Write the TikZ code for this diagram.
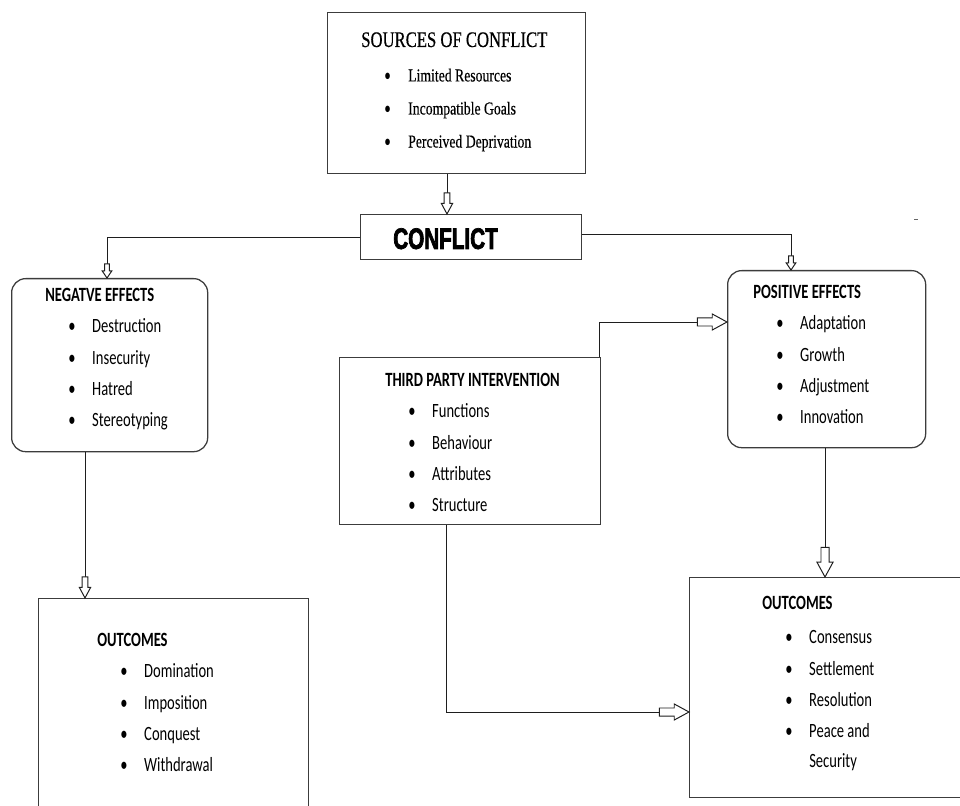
\documentclass[tikz,border=0pt]{standalone}
\usepackage{fontspec}
\usepackage{tikz}
\usetikzlibrary{arrows.meta, positioning}
\setmainfont{Carlito}[FakeStretch=0.72]
\newfontfamily\srcfont{Liberation Serif}[FakeStretch=0.75, FakeBold=0.4]
\newfontfamily\conffont{Liberation Sans}[FakeStretch=0.7, BoldFeatures={FakeBold=2.5}]
\definecolor{boxgray}{RGB}{60, 60, 60}
\definecolor{linegray}{RGB}{30, 30, 30}
\newcommand{\itm}[1]{\hspace*{16.4pt}\makebox[17pt][l]{\rmfamily\textbullet}#1}

% hollow block arrow
\pgfdeclarearrow{
  name = Block,
  parameters = {\the\pgfarrowlength,\the\pgfarrowwidth},
  setup code = {
    \pgfarrowssettipend{0pt}
    \pgfarrowssetlineend{-\pgfarrowlength}
    \pgfarrowssetbackend{-\pgfarrowlength}
    \pgfarrowshullpoint{0pt}{0pt}
    \pgfarrowsupperhullpoint{-\pgfarrowlength}{.5\pgfarrowwidth}
    \pgfarrowssavethe\pgfarrowlength
    \pgfarrowssavethe\pgfarrowwidth
  },
  drawing code = {
    \pgfsetmiterjoin
    \pgfpathmoveto{\pgfqpoint{0pt}{0pt}}
    \pgfpathlineto{\pgfqpoint{-.5\pgfarrowlength}{.5\pgfarrowwidth}}
    \pgfpathlineto{\pgfqpoint{-.5\pgfarrowlength}{.25\pgfarrowwidth}}
    \pgfpathlineto{\pgfqpoint{-\pgfarrowlength}{.25\pgfarrowwidth}}
    \pgfpathlineto{\pgfqpoint{-\pgfarrowlength}{-.25\pgfarrowwidth}}
    \pgfpathlineto{\pgfqpoint{-.5\pgfarrowlength}{-.25\pgfarrowwidth}}
    \pgfpathlineto{\pgfqpoint{-.5\pgfarrowlength}{-.5\pgfarrowwidth}}
    \pgfpathclose
    \pgfsetfillcolor{white}
    \pgfusepathqfillstroke
  },
  defaults = {length = 12pt, width = 8pt}
}

\begin{document}
\begin{tikzpicture}[
  x=0.025cm, y=-0.025cm,
  plainbox/.style={rectangle, draw=boxgray, line width=0.9pt, anchor=north west, inner sep=0pt},
  roundbox/.style={plainbox, rounded corners=10pt},
  listtext/.style={anchor=north west, inner sep=0pt, align=left, font=\fontsize{14.4}{22.3}\selectfont},
  srctext/.style={anchor=north west, inner sep=0pt, align=left, font=\srcfont\fontsize{13}{23.5}\selectfont},
  sarr/.style={-{Block[length=10pt, width=6.8pt]}, line width=0.7pt, color=linegray},
  marr/.style={-{Block[length=15pt, width=8pt]}, line width=0.7pt, color=linegray},
  barr/.style={-{Block[length=21pt, width=11.4pt]}, line width=0.7pt, color=linegray}
]
\useasboundingbox (0,0) rectangle (960,806);
\clip (0,0) rectangle (960,806);

% Sources & Conflict
\node[plainbox, minimum width=6.45cm, minimum height=4.025cm] (src) at (327,12) {};
\node[srctext] (srclist) at (361,32) {{\fontsize{15.8}{23.5}\selectfont SOURCES OF CONFLICT}\\[1pt]
  \itm{Limited Resources}\\
  \itm{Incompatible Goals}\\
  \itm{Perceived Deprivation}};
\node[plainbox, minimum width=5.525cm, minimum height=1.125cm] (conf) at (360,214) {};
\node[anchor=north west, inner sep=0pt, font=\conffont\bfseries\fontsize{21}{21}\selectfont] (conftext) at (393,228) {CONFLICT};

% Effects
\node[roundbox, minimum width=4.9cm, minimum height=4.325cm] (neg) at (11,278) {};
\node[listtext] (neglist) at (45,288) {\textbf{NEGATVE EFFECTS}\\
  \itm{Destruction}\\
  \itm{Insecurity}\\
  \itm{Hatred}\\
  \itm{Stereotyping}};
\node[roundbox, minimum width=4.95cm, minimum height=4.425cm] (pos) at (727,270) {};
\node[listtext] (poslist) at (753,285) {\textbf{POSITIVE EFFECTS}\\
  \itm{Adaptation}\\
  \itm{Growth}\\
  \itm{Adjustment}\\
  \itm{Innovation}};

% Third Party
\node[plainbox, minimum width=6.525cm, minimum height=4.175cm] (third) at (339,357) {};
\node[listtext] (thirdlist) at (385,373) {\textbf{THIRD PARTY INTERVENTION}\\
  \itm{Functions}\\
  \itm{Behaviour}\\
  \itm{Attributes}\\
  \itm{Structure}};

% Outcomes
\node[plainbox, minimum width=6.75cm, minimum height=5.8cm] (nout) at (38,598) {};
\node[listtext] (noutlist) at (97,633) {\textbf{OUTCOMES}\\
  \itm{Domination}\\
  \itm{Imposition}\\
  \itm{Conquest}\\
  \itm{Withdrawal}};
\node[plainbox, minimum width=7.525cm, minimum height=5.5cm] (pout) at (689,577) {};
\node[listtext] (poutlist) at (762,596) {\textbf{OUTCOMES}\\[2pt]
  \itm{Consensus}\\
  \itm{Settlement}\\
  \itm{Resolution}\\
  \itm{Peace and}\\[-1.5pt]
  \hspace*{33.4pt}Security};

% Bends
\coordinate (srcdrop) at (447,0);
\coordinate (negbend) at (107,237);
\coordinate (posbend) at (791,234);
\coordinate (thirdbend) at (599,322);
\coordinate (negdrop) at (85,0);
\coordinate (posdrop) at (825,0);
\coordinate (thirdlow) at (446,712);

% Edges
\draw[marr] (src.south -| srcdrop) -- (conf.north -| srcdrop);
\draw[sarr] (conf.west |- negbend) -| (neg.north -| negbend);
\draw[sarr] (conf.east |- posbend) -| (pos.north -| posbend);
\draw[barr] (third.north -| thirdbend) |- (pos.west |- thirdbend);
\draw[marr] (neg.south -| negdrop) -- (nout.north -| negdrop);
\draw[barr] (pos.south -| posdrop) -- (pout.north -| posdrop);
\draw[barr] (third.south -| thirdlow) |- (pout.west |- thirdlow);

% stray mark
\draw[line width=0.7pt, black!60] (914,219) -- (918,219);

\end{tikzpicture}
\end{document}
